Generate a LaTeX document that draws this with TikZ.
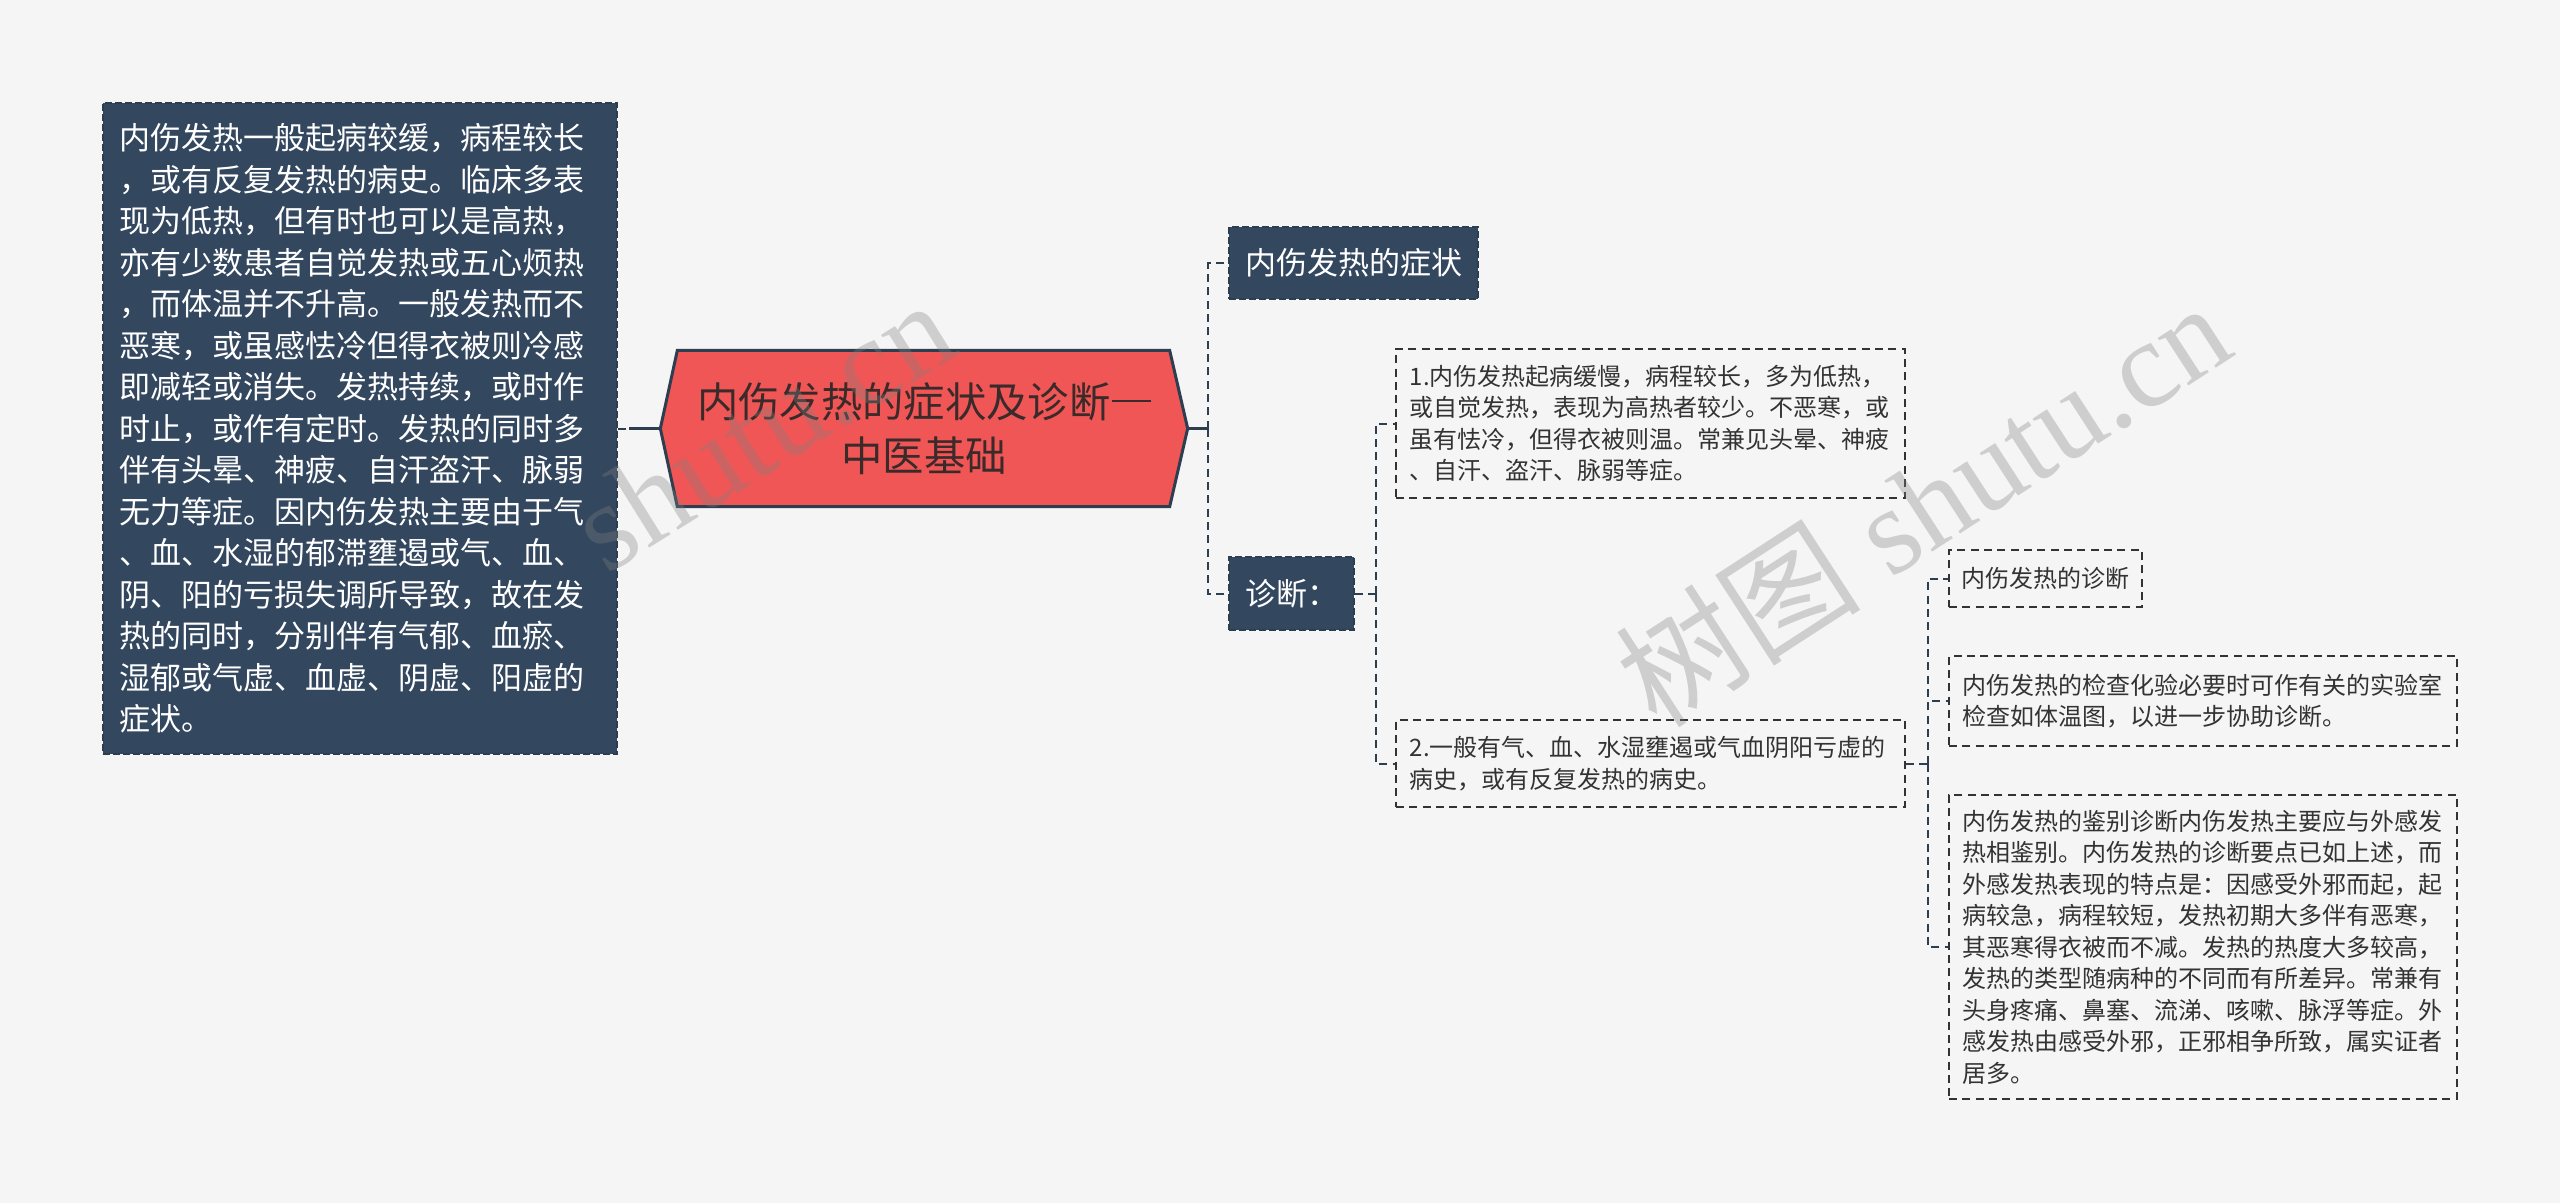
\documentclass[tikz,border=0pt]{standalone}
\usepackage{fontspec}
\setmainfont{Noto Sans CJK SC}
\newfontfamily\wmfont{Liberation Serif}
\newfontfamily\cjkfont{Noto Sans CJK SC}
\definecolor{bgc}{HTML}{F5F5F5}
\definecolor{darkbox}{HTML}{33475F}
\definecolor{darkline}{HTML}{2C3E50}
\definecolor{redc}{HTML}{F05656}
\definecolor{hextext}{HTML}{3A2A2A}
\definecolor{lighttext}{HTML}{333333}
\definecolor{wmgray}{HTML}{808080}
\def\pxu{0.3pt}
\newcommand{\cjkdash}{\hspace{0.03em}\rule[0.36em]{0.94em}{0.065em}\hspace{0.03em}}
\pgfdeclarelayer{back}
\pgfsetlayers{back,main}
\tikzset{
  dkbox/.style={fill=darkbox, draw=darkline, line width=0.6pt,
    dash pattern=on 2pt off 1pt,
    preaction={draw=bgc, line width=0.6pt, solid},
    text=white, inner ysep=0pt},
  ltbox/.style={draw=lighttext, line width=0.6pt, dash pattern=on 2.4pt off 1.6pt,
    text=lighttext, inner ysep=0pt},
  bigfont/.style={font=\fontsize{9.3pt}{12.45pt}\selectfont},
  smallfont/.style={font=\fontsize{7.2pt}{9.45pt}\selectfont},
  conn/.style={draw=darkline, line width=0.6pt, dash pattern=on 2.4pt off 1.6pt},
  solidconn/.style={draw=darkline, line width=0.8pt},
  wm/.style={text=wmgray, text opacity=0.33, inner sep=0pt},
}
\begin{document}
\begin{tikzpicture}[x=0.3pt, y=-0.3pt]
\begin{pgfonlayer}{back}
\fill[bgc] (0,0) rectangle (2560,1203);
\end{pgfonlayer}
\useasboundingbox (0,0) rectangle (2560,1203);

% left description box
\node[dkbox, bigfont, align=left, text width=144.6pt, inner xsep=4.8pt,
      minimum height=195.3pt] (leftbox) at (360,428.5)
 {内伤发热一般起病较缓，病程较长\\，或有反复发热的病史。临床多表\\现为低热，但有时也可以是高热，\\亦有少数患者自觉发热或五心烦热\\，而体温并不升高。一般发热而不\\恶寒，或虽感怯冷但得衣被则冷感\\即减轻或消失。发热持续，或时作\\时止，或作有定时。发热的同时多\\伴有头晕、神疲、自汗盗汗、脉弱\\无力等症。因内伤发热主要由于气\\、血、水湿的郁滞壅遏或气、血、\\阴、阳的亏损失调所导致，故在发\\热的同时，分别伴有气郁、血瘀、\\湿郁或气虚、血虚、阴虚、阳虚的\\症状。};

% central topic
\node[align=center, text=hextext, font=\fontsize{12.4pt}{16.2pt}\selectfont,
      minimum width=157.8pt, minimum height=46.5pt, inner sep=0pt]
      (center) at (924,428.5) {内伤发热的症状及诊断\cjkdash\\中医基础};
\begin{pgfonlayer}{back}
\draw[fill=redc, draw=darkline, line width=0.9pt, line join=miter]
  ([xshift=17*\pxu]center.north west) -- ([xshift=-18*\pxu]center.north east)
  -- (center.east) -- ([xshift=-18*\pxu]center.south east)
  -- ([xshift=17*\pxu]center.south west) -- (center.west) -- cycle;
\end{pgfonlayer}

% first level
\node[dkbox, bigfont, minimum width=74.7pt, minimum height=21.6pt, inner xsep=0pt]
  (sym) at (1353.5,263) {内伤发热的症状};
\node[dkbox, bigfont, minimum width=37.5pt, minimum height=21.9pt, inner xsep=0pt]
  (diag) at (1291.5,593.5) {诊断：};

% second level
\node[ltbox, smallfont, align=left, text width=144.5pt, inner xsep=4.1pt,
      minimum height=44.7pt] (b1) at (1650.5,423.5)
 {1.内伤发热起病缓慢，病程较长，多为低热，\\或自觉发热，表现为高热者较少。不恶寒，或\\虽有怯冷，但得衣被则温。常兼见头晕、神疲\\、自汗、盗汗、脉弱等症。};
\node[ltbox, smallfont, align=left, text width=144.5pt, inner xsep=4.1pt,
      minimum height=26.1pt] (b2) at (1650.5,763.5)
 {2.一般有气、血、水湿壅遏或气血阴阳亏虚的\\病史，或有反复发热的病史。};

% third level
\node[ltbox, smallfont, minimum width=57.9pt, minimum height=17.1pt, inner xsep=0pt]
  (d1) at (2045.5,578.5) {内伤发热的诊断};
\node[ltbox, smallfont, align=left, text width=144.5pt, inner xsep=3.95pt,
      minimum height=27pt] (d2) at (2203,701)
 {内伤发热的检查化验必要时可作有关的实验室\\检查如体温图，以进一步协助诊断。};
\node[ltbox, smallfont, align=left, text width=144.5pt, inner xsep=3.95pt,
      minimum height=91.2pt] (d3) at (2203,947)
 {内伤发热的鉴别诊断内伤发热主要应与外感发\\热相鉴别。内伤发热的诊断要点已如上述，而\\外感发热表现的特点是：因感受外邪而起，起\\病较急，病程较短，发热初期大多伴有恶寒，\\其恶寒得衣被而不减。发热的热度大多较高，\\发热的类型随病种的不同而有所差异。常兼有\\头身疼痛、鼻塞、流涕、咳嗽、脉浮等症。外\\感发热由感受外邪，正邪相争所致，属实证者\\居多。};

% junctions
\coordinate (jl) at (629,428.5);
\coordinate (j1) at (1208,428.5);
\coordinate (j2) at (1376,593.5);
\coordinate (j3) at (1928,763.5);

% connectors
\draw[conn] (leftbox.east) -- (jl);
\draw[solidconn] (jl) -- (center.west);
\draw[solidconn] (center.east) -- (j1);
\draw[conn] (j1) |- (sym.west);
\draw[conn] (j1) |- (diag.west);
\draw[conn] (diag.east) -- (j2);
\draw[conn] (j2) |- (b1.west);
\draw[conn] (j2) |- (b2.west);
\draw[conn] (b2.east) -- (j3);
\draw[conn] (j3) |- (d1.west);
\draw[conn] (j3) |- (d2.west);
\draw[conn] (j3) |- (d3.west);

% watermarks
\node[wm, rotate=32, font=\wmfont\fontsize{37.5pt}{40pt}\selectfont] (wm1) at (762,428) {shutu.cn};
\node[wm, rotate=33, font=\wmfont\fontsize{37pt}{40pt}\selectfont] (wm2) at (1922,503) {{\cjkfont 树图} shutu.cn};
\end{tikzpicture}
\end{document}
